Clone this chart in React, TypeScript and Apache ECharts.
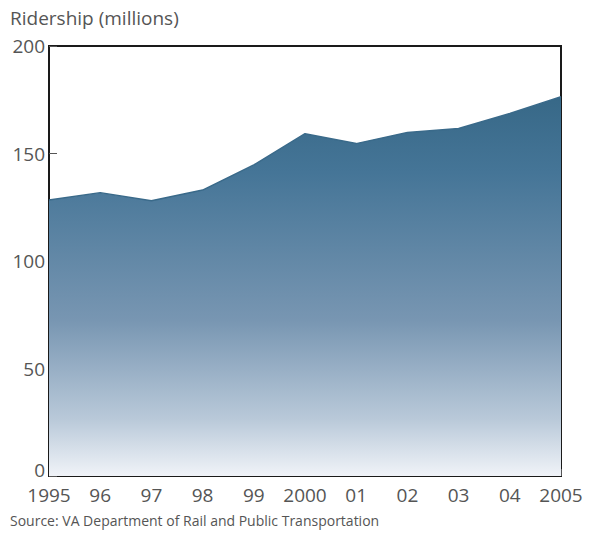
import React, { useEffect, useRef } from "react";
import * as echarts from "echarts";

const years = ["1995", "96", "97", "98", "99", "2000", "01", "02", "03", "04", "2005"];
const ridership = [128.4, 131.8, 128.0, 133.0, 144.7, 159.2, 154.6, 159.8, 161.6, 168.6, 176.4];
const yTicks = { min: 0, max: 200, interval: 50 };
const yTitle = "Ridership (millions)";
const sourceText = "Source: VA Department of Rail and Public Transportation";

const FONT = "Open Sans";

export default function App() {
  const ref = useRef<HTMLDivElement>(null);
  useEffect(() => {
    const chart = echarts.init(ref.current!, null, { renderer: "svg" });
    chart.setOption({
      animation: false,
      textStyle: { fontFamily: FONT },
      grid: {
        left: 49,
        right: 28,
        top: 46,
        bottom: 59,
        show: true,
        borderColor: "#1a1a1a",
        borderWidth: 2,
        backgroundColor: "transparent",
      },
      graphic: [
        {
          type: "text",
          left: 10,
          top: 8,
          style: { text: yTitle, fontSize: 19, fill: "#555", fontFamily: FONT },
        },
        {
          type: "text",
          left: 10,
          top: 513,
          style: { text: sourceText, fontSize: 14, fill: "#555", fontFamily: FONT },
        },
      ],
      xAxis: {
        type: "category",
        data: years,
        boundaryGap: false,
        axisLine: { lineStyle: { color: "#1a1a1a", width: 2 } },
        axisTick: { inside: true, length: 7, interval: 0, lineStyle: { color: "#555" } },
        axisLabel: {
          color: "#555",
          fontSize: 19,
          lineHeight: 20,
          margin: 9,
          interval: 0,
          fontFamily: FONT,
        },
        splitLine: { show: false },
      },
      yAxis: {
        type: "value",
        min: yTicks.min,
        max: yTicks.max,
        interval: yTicks.interval,
        axisLine: { show: true, lineStyle: { color: "#1a1a1a", width: 2 } },
        axisTick: { show: true, inside: true, length: 8, lineStyle: { color: "#555" } },
        axisLabel: {
          color: "#555",
          fontSize: 19,
          margin: 4,
          fontFamily: FONT,
          formatter: (v: number) => (v === 0 ? "{z|0}" : String(v)),
          rich: {
            z: { fontSize: 19, lineHeight: 18, color: "#555", fontFamily: FONT, padding: [0, 0, 12, 0] },
          },
        },
        splitLine: { show: false },
      },
      series: [
        {
          type: "line",
          data: ridership,
          symbol: "none",
          lineStyle: { color: "#3a6a8a", width: 1.5 },
          areaStyle: {
            origin: "start",
            opacity: 1,
            color: new echarts.graphic.LinearGradient(0, 0, 0, 1, [
              { offset: 0, color: "#376887" },
              { offset: 0.2, color: "#457597" },
              { offset: 0.59, color: "#7896b2" },
              { offset: 0.85, color: "#b9c9d9" },
              { offset: 1, color: "#f0f3f8" },
            ]),
          },
        },
      ],
    });
    return () => chart.dispose();
  }, []);
  return <div ref={ref} style={{ width: 589, height: 535, position: "absolute", left: 0, top: 0 }} />;
}
